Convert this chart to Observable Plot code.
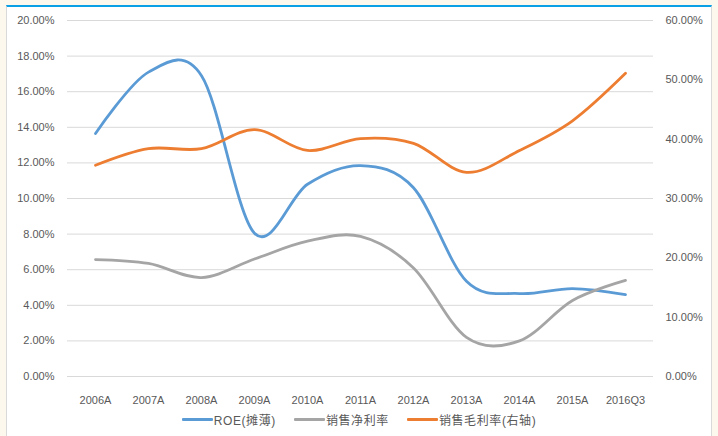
<!DOCTYPE html>
<html>
<head>
<meta charset="utf-8">
<script src="https://cdn.jsdelivr.net/npm/d3@7"></script>
<script src="https://cdn.jsdelivr.net/npm/@observablehq/plot@0.6"></script>
<style>
  html, body { margin: 0; padding: 0; background: #fdf8ee; width: 718px; height: 436px; overflow: hidden; }
  #panel { position: absolute; left: 6px; top: 5px; width: 706px; height: 440px; background: #fff;
           border-left: 1px solid #d9d9d9; border-right: 1px solid #d9d9d9; border-top: 2px solid #0aa0e6; box-sizing: border-box; }
  #chart { position: absolute; left: 0; top: 0; }
  #legend { position: absolute; top: 411px; left: 0; width: 718px; display: flex; justify-content: center;
            font-family: "Liberation Sans", "Noto Sans CJK SC", sans-serif; font-size: 12px; color: #595959; padding-left: 0; }
  .item { display: flex; align-items: center; margin: 0 9px; letter-spacing: 0.6px; }
  .sw { width: 31px; height: 3px; margin-right: 1px; border-radius: 1px; }
</style>
</head>
<body>
<div id="panel"></div>
<div id="chart"></div>
<div id="legend"></div>
<script>
const categories = ["2006A","2007A","2008A","2009A","2010A","2011A","2012A","2013A","2014A","2015A","2016Q3"];
const roe        = [13.65, 17.1, 16.9, 8.05, 10.8, 11.85, 10.6, 5.35, 4.66, 4.94, 4.6];
const netMargin  = [6.57, 6.35, 5.56, 6.6, 7.6, 7.87, 6.1, 2.2, 2.0, 4.27, 5.4];
const grossMargin= [35.6, 38.4, 38.4, 41.6, 38.1, 40.1, 39.3, 34.4, 38.1, 43.1, 51.1];
const seriesNames = ["ROE(摊薄)", "销售净利率", "销售毛利率(右轴)"];
const leftTicks  = [0, 2, 4, 6, 8, 10, 12, 14, 16, 18, 20];
const rightTicks = [0, 10, 20, 30, 40, 50, 60];
const colors = ["#5b9bd5", "#a5a5a5", "#ed7d31"];

const ratio = 20 / 60; // right axis -> left axis units
const rows = [];
categories.forEach((c, i) => {
  rows.push({cat: c, series: seriesNames[0], v: roe[i]});
  rows.push({cat: c, series: seriesNames[1], v: netMargin[i]});
  rows.push({cat: c, series: seriesNames[2], v: grossMargin[i] * ratio});
});

const font = "Liberation Sans, Arial, sans-serif";
const chart = Plot.plot({
  width: 718,
  height: 402,
  marginLeft: 67,
  marginRight: 65,
  marginTop: 20,
  marginBottom: 26,
  style: {fontFamily: font, fontSize: "11px", color: "#595959", background: "transparent", overflow: "visible"},
  x: {type: "point", domain: categories, padding: 0.5, label: null},
  y: {domain: [0, 20], label: null},
  color: {domain: seriesNames, range: colors},
  marks: [
    Plot.ruleY(leftTicks, {stroke: "#d9d9d9", strokeWidth: 1}),
    Plot.axisY(leftTicks, {anchor: "left", tickSize: 0, tickPadding: 13, label: null,
      tickFormat: d => d.toFixed(2) + "%", fill: "#595959"}),
    Plot.axisY(rightTicks.map(t => t * ratio), {anchor: "right", tickSize: 0, tickPadding: 12, label: null,
      tickFormat: d => (d / ratio).toFixed(2) + "%", fill: "#595959"}),
    Plot.axisX({tickSize: 0, tickPadding: 20, label: null, fill: "#595959"}),
    Plot.line(rows, {x: "cat", y: "v", z: "series", stroke: "series", strokeWidth: 2.8,
      curve: "cardinal", strokeLinecap: "round", strokeLinejoin: "round"})
  ]
});
document.getElementById("chart").appendChild(chart);

const legend = document.getElementById("legend");
seriesNames.forEach((n, i) => {
  const it = document.createElement("div");
  it.className = "item";
  const sw = document.createElement("span");
  sw.className = "sw";
  sw.style.background = colors[i];
  const tx = document.createElement("span");
  tx.textContent = n;
  it.appendChild(sw); it.appendChild(tx);
  legend.appendChild(it);
});
</script>
</body>
</html>
